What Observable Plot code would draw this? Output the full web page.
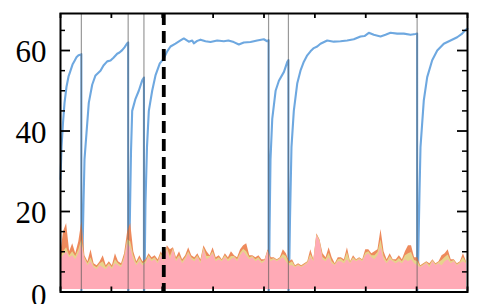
<!DOCTYPE html>
<html><head><meta charset="utf-8">
<script src="https://cdn.jsdelivr.net/npm/d3@7"></script>
<script src="https://cdn.jsdelivr.net/npm/@observablehq/plot@0.6"></script>
<style>body{margin:0;background:#fff}</style>
</head><body><div id="chart"></div>
<script>
// Blue line (x in run units, y value)
const blueX = [0,2,4.9,7.9,11.8,15.7,19.7,23.6,27.5,31.4,35.4,40.3,41,41,
  42,45.2,47.2,51.1,55.6,62.3,68.8,78.6,84.5,91.8,98.3,104.2,111.4,116,121.3,125.8,131.1,133,133,
  134,136.6,138.6,140.9,144.1,147.4,153.9,160.6,164,164,
  165,167,170,173.6,180.2,186.7,195.2,203,209.7,216.2,226,235.9,242.4,252.2,258.9,262,268.7,275.2,285,294.8,308,321,330,340.6,350.5,360.3,373.5,386.6,399.6,406.2,409,409,
  410,410.9,412.8,416.2,422.8,429.3,439.2,445.8,448,448,
  449,451.1,454,458.6,465.3,471.7,477.6,485,491.4,497.9,504.6,511,524.2,537.2,550.4,563.5,576.5,589.7,597.5,606,615.8,629,638.8,648.6,661.8,674.8,688,697.8,701,701,
  702,703.7,705.7,707.6,714.1,720.8,730.6,740.5,753.4,766.6,779.7,789.6,796.7,800];
const blueY = [28,36,42,47,51,53.5,55,56.5,57.4,58.3,58.8,59,59.1,0,
  2,22,33,39.5,47,51.5,53.8,55,56.3,57.3,57.5,58.2,59.2,59.5,60.1,60.8,61.8,62,0,
  1,20,35,45,46.5,48,50,52.6,53.3,0,
  1,22,36,45,50,53.8,56.8,58,59.8,61,61.7,62.5,63,62.2,62.5,61.8,62.4,62.7,62.3,62.1,62.5,62.3,62.5,62.1,61.5,62,62.1,62.5,62.8,62.3,62.6,0,
  1,15,33,43,50,52.5,54.7,57.2,57.6,0,
  1,18,36,45,51.8,55,57,58.8,59.8,60.6,61,61.7,62.5,62.2,62.3,62.5,62.8,63.5,63.6,64.4,63.9,63.5,63.9,64.4,64.2,64.2,63.9,64.1,64.2,0,
  1,12,25,36,47.6,53.4,57.6,60,61.7,62.5,63.3,64.2,65.2,65.4];

// Noise series sampled every 6 run units
const noiseStep = 6;
const pinkVals = [8,9,10,8.5,9,8,9.5,12,8,6.5,7.5,6,5.5,6.5,6,5.5,6.5,5.5,7,6.5,
  6,8,12,11,8,6.5,7.5,6.5,7,8.5,7.5,8,7,9,7.5,10.5,8,10.5,7.5,8.5,
  7,8,9.5,8,7.5,8.5,7,10.5,8,8.5,9.5,7.5,8,7.5,8.5,7.5,8,8.5,7.5,9,
  10,9,8,8.5,7.5,8,7,7.5,10,7.5,8,7.5,8,8.5,7.5,6.5,6.5,6,6.5,6,
  6.5,7,8.5,7.5,14,12.5,8,7.5,8.5,7,6.5,7.5,7.5,7,8,7,8,7.5,8,7.5,
  9,9.5,8.5,8,9,11,8,7,8,7.5,7,7.5,7,8,7.5,8,7,6.5,6,6.5,
  7,6,7.5,6.5,7,6.5,7.5,8,7,7.5,6.5,7,7.5,7];
const yellowVals = [8.4,10,11,9,10,8.8,10.5,13,8.5,7,8.5,6.5,6,7,7.5,6,7,6,8,7,
  6.5,8.7,13,12.5,9,7,8.3,7,7.5,9,8,8.5,7.5,9.5,8,11,8.8,10.8,8,9,
  7.5,8.5,10,8.5,8,9,7.5,11,8.8,8.8,10,8,8.5,7.8,9,8,8.8,8.8,8,9.6,
  10.6,10,8.5,8.8,8,8.5,7.5,7.8,10.2,8,8.3,7.8,8.3,9.3,8.8,7,7.5,6.3,6.8,6.3,
  6.8,7.3,9.3,7.8,14.2,12.8,8.6,8,9.6,7.6,6.8,8,8.2,7.6,9.8,7.3,8.5,7.8,8.3,7.8,
  9.6,10,9,9,9.8,13,8.8,7.5,8.8,7.8,7.6,8.3,7.5,9,9.5,9.8,7.8,7.6,6.3,6.8,
  7.3,6.6,7.8,6.8,7.3,7.8,8.6,9.2,7.5,7.8,6.8,7.3,8.6,7.3];
const orangeVals = [9,15,17,10,12,9.5,12.5,17.5,9,7.5,10.5,7,6.5,7.5,9,6.5,7.5,6.5,9.5,7.5,
  7,9.5,15,17,10,7.5,9,7.5,8,9.5,8.5,9,8,10,8.5,11.5,10.5,11,8.5,10,
  8,9,11,9,8.5,9.5,8,11.5,10,9,11,8.5,9,8,9.5,8.5,10,9,8.5,10.5,
  11.5,12,9,9,8.5,9,8,8,10.5,8.5,8.5,8,8.5,10.5,9.5,7.5,8,6.5,7,6.5,
  7,7.5,10.5,8,14.5,13,9.5,8.5,11,8.5,7,8.5,8.5,8,11,7.5,9,8,8.5,8,
  10.5,10.5,9.5,10,10.5,15.5,10,8,9.5,8,8,9,8,10,11.5,11.5,8.5,8.5,6.5,7,
  7.5,7,8,7,7.5,9,9.5,10.5,8,8,7,7.5,9.5,7.5];

const resetX = [41,133,164,409,448,701];
const dashedX = [203];
const xTicks = [0,100,200,300,400,500,600,700,800];
const yLabels = [20,40,60];
const yZeroLabel = [0];
const yMajor = [0,20,40,60];
const yMinor = [5,10,15,25,30,35,45,50,55,65];

const blue = blueX.map((x,i)=>({x, y: blueY[i]}));
const noise = pinkVals.map((p,i)=>({x: i*noiseStep, p, yl: yellowVals[i], o: orangeVals[i]}));

const W=479, H=304, mL=60, mR=12, mT=13, mB=12.5;
const innerW = W-mL-mR, innerH = H-mT-mB;
const base = 0.6;
const labelFont = {fontSize: 31, fontFamily: "Liberation Serif, Times New Roman, serif", fill: "black", textAnchor: "end", frameAnchor: "left", dx: -14};

const chart = Plot.plot({
  width: W, height: H,
  marginLeft: mL, marginRight: mR, marginTop: mT, marginBottom: mB,
  style: {background: "white", overflow: "visible"},
  x: {domain: [0, 800], axis: null},
  y: {domain: [0, 69.2], axis: null},
  marks: [
    Plot.line(blue, {x: "x", y: "y", stroke: "#6ea8e0", strokeWidth: 2.1}),
    Plot.areaY(noise, {x: "x", y1: base, y2: "o", fill: "#ee8a5c"}),
    Plot.areaY(noise, {x: "x", y1: base, y2: "yl", fill: "#e7d38c"}),
    Plot.areaY(noise, {x: "x", y1: base, y2: "p", fill: "#ffaab6"}),
    Plot.ruleX(resetX, {stroke: "#555", strokeOpacity: 0.6, strokeWidth: 1.2}),
    Plot.ruleX(dashedX, {stroke: "black", strokeWidth: 3.8, strokeDasharray: "12,6"}),
    Plot.ruleY(yMajor, {insetRight: innerW - 10, stroke: "black", strokeWidth: 1.8}),
    Plot.ruleY(yMajor, {insetLeft: innerW - 10, stroke: "black", strokeWidth: 1.8}),
    Plot.ruleY(yMinor, {insetRight: innerW - 5, stroke: "black", strokeWidth: 1.5}),
    Plot.ruleY(yMinor, {insetLeft: innerW - 5, stroke: "black", strokeWidth: 1.5}),
    Plot.ruleX(xTicks, {insetBottom: innerH - 5, stroke: "black", strokeWidth: 1.8}),
    Plot.ruleX(xTicks, {insetTop: innerH - 5, stroke: "black", strokeWidth: 1.8}),
    Plot.text(yLabels, {y: d => d, text: d => String(d), ...labelFont, dy: 2}),
    Plot.text(yZeroLabel, {y: d => d, text: d => String(d), ...labelFont, dy: 4}),
    Plot.frame({stroke: "black", strokeWidth: 2})
  ]
});
document.getElementById("chart").append(chart);
</script>
</body></html>
